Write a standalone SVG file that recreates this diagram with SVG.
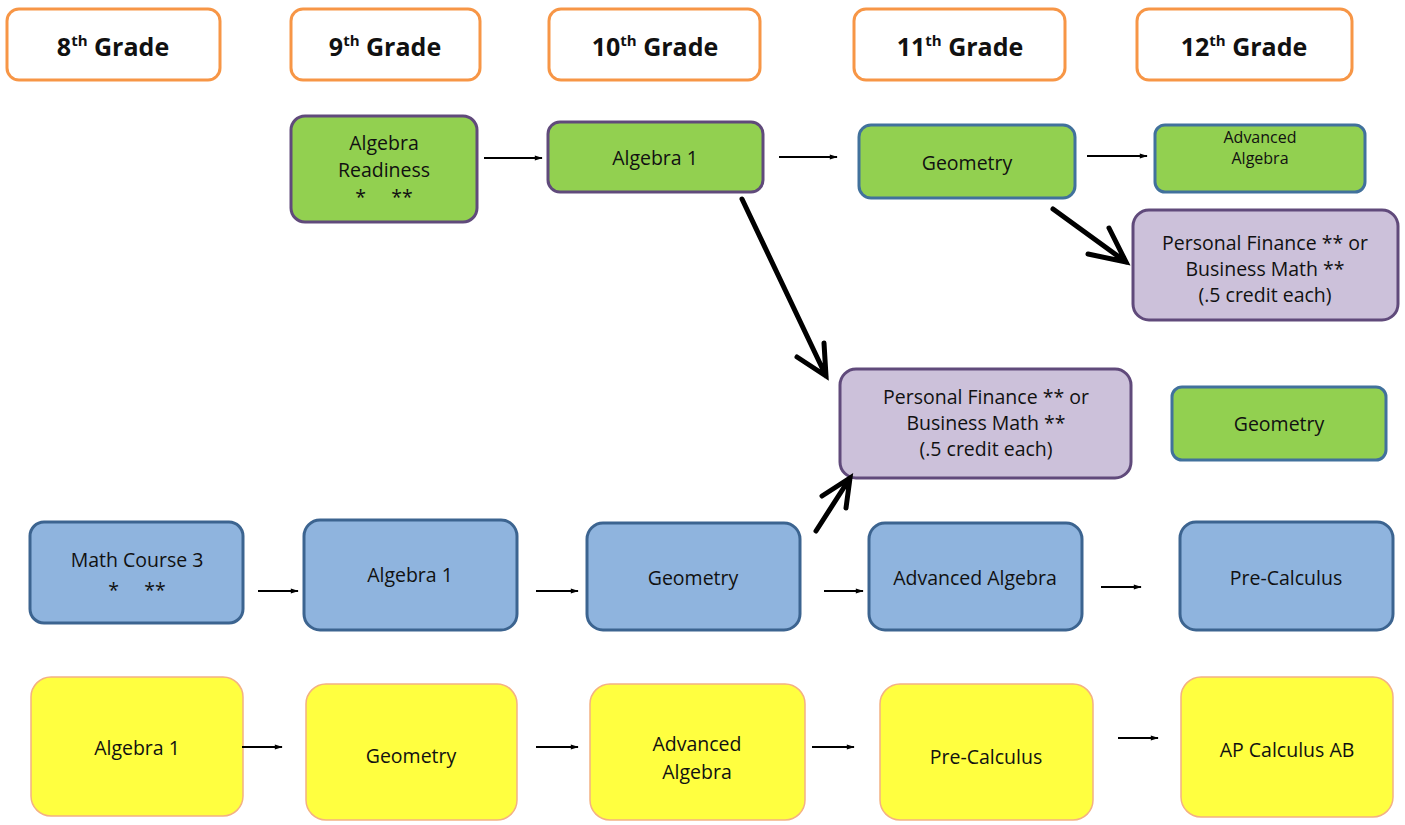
<svg xmlns="http://www.w3.org/2000/svg" width="1405" height="825" viewBox="0 0 1405 825">
<defs>
<marker id="sm" viewBox="0 0 10 10" refX="9" refY="5" markerWidth="5" markerHeight="4" orient="auto" markerUnits="strokeWidth"><path d="M0,2 L10,5 L0,8 Z" fill="#000"/></marker>
</defs>
<style>
.hdr{fill:#fff;stroke:#F79646;stroke-width:3}
.grn{fill:#92D050;stroke-width:3}
.pur{stroke:#604A7B}
.blu{stroke:#41719C}
.lav{fill:#CCC1DA;stroke:#604A7B;stroke-width:3}
.bl{fill:#8FB4DE;stroke:#3C6490;stroke-width:3}
.yl{fill:#FFFF40;stroke:#F4B183;stroke-width:1.5}
text{font-family:"Open Sans","Noto Sans",sans-serif;font-size:19.5px;fill:#111;text-anchor:middle;white-space:pre}
.h{font-size:25px;font-weight:bold}
.sup{font-size:15px}
.s{font-size:16px}
.sa{stroke:#000;stroke-width:2;fill:none;marker-end:url(#sm)}
.big{stroke:#000;stroke-width:5;fill:none;stroke-linecap:round}
</style>
<rect width="1405" height="825" fill="#fff"/>
<g id="h8"><rect class="hdr" x="7" y="9" width="213" height="71" rx="12"/><text class="h" x="113" y="56">8<tspan class="sup" dy="-10">th</tspan><tspan dy="10"> Grade</tspan></text></g>
<g id="h9"><rect class="hdr" x="291" y="9" width="189" height="71" rx="12"/><text class="h" x="385" y="56">9<tspan class="sup" dy="-10">th</tspan><tspan dy="10"> Grade</tspan></text></g>
<g id="h10"><rect class="hdr" x="549" y="9" width="211" height="71" rx="12"/><text class="h" x="655" y="56">10<tspan class="sup" dy="-10">th</tspan><tspan dy="10"> Grade</tspan></text></g>
<g id="h11"><rect class="hdr" x="854" y="9" width="211" height="71" rx="12"/><text class="h" x="960" y="56">11<tspan class="sup" dy="-10">th</tspan><tspan dy="10"> Grade</tspan></text></g>
<g id="h12"><rect class="hdr" x="1137" y="9" width="215" height="71" rx="12"/><text class="h" x="1244" y="56">12<tspan class="sup" dy="-10">th</tspan><tspan dy="10"> Grade</tspan></text></g>

<g id="g_ar"><rect class="grn pur" x="291" y="116" width="186" height="106" rx="14"/><text x="384" y="150">Algebra</text><text x="384" y="177">Readiness</text><text x="384" y="204">*     **</text></g>
<g id="g_a1"><rect class="grn pur" x="548" y="122" width="215" height="70" rx="12"/><text x="655" y="165">Algebra 1</text></g>
<g id="g_geo"><rect class="grn blu" x="859" y="125" width="216" height="73" rx="12"/><text x="967" y="170">Geometry</text></g>
<g id="g_aa"><rect class="grn blu" x="1155" y="125" width="210" height="67" rx="10"/><text class="s" x="1260" y="143">Advanced</text><text class="s" x="1260" y="164">Algebra</text></g>
<g id="p_top"><rect class="lav" x="1133" y="210" width="265" height="110" rx="16"/><text x="1265" y="250">Personal Finance ** or</text><text x="1265" y="276">Business Math **</text><text x="1265" y="302">(.5 credit each)</text></g>
<g id="p_mid"><rect class="lav" x="840" y="369" width="291" height="109" rx="16"/><text x="986" y="404">Personal Finance ** or</text><text x="986" y="430">Business Math **</text><text x="986" y="456">(.5 credit each)</text></g>
<g id="g_geo2"><rect class="grn blu" x="1172" y="387" width="214" height="73" rx="10"/><text x="1279" y="431">Geometry</text></g>

<g id="b_mc3"><rect class="bl" x="30" y="522" width="213" height="101" rx="14"/><text x="137" y="567">Math Course 3</text><text x="137" y="597">*     **</text></g>
<g id="b_a1"><rect class="bl" x="304" y="520" width="213" height="110" rx="16"/><text x="410" y="582">Algebra 1</text></g>
<g id="b_geo"><rect class="bl" x="587" y="523" width="213" height="107" rx="16"/><text x="693" y="585">Geometry</text></g>
<g id="b_aa"><rect class="bl" x="869" y="523" width="213" height="107" rx="16"/><text x="975" y="585">Advanced Algebra</text></g>
<g id="b_pc"><rect class="bl" x="1180" y="522" width="213" height="108" rx="16"/><text x="1286" y="585">Pre-Calculus</text></g>

<g id="y_a1"><rect class="yl" x="31" y="677" width="212" height="139" rx="20"/><text x="137" y="755">Algebra 1</text></g>
<g id="y_geo"><rect class="yl" x="306" y="684" width="211" height="136" rx="20"/><text x="411" y="763">Geometry</text></g>
<g id="y_aa"><rect class="yl" x="590" y="684" width="215" height="136" rx="20"/><text x="697" y="751">Advanced</text><text x="697" y="779">Algebra</text></g>
<g id="y_pc"><rect class="yl" x="880" y="684" width="213" height="136" rx="20"/><text x="986" y="764">Pre-Calculus</text></g>
<g id="y_ap"><rect class="yl" x="1181" y="677" width="212" height="140" rx="20"/><text x="1287" y="757">AP Calculus AB</text></g>

<g id="connectors">
<line class="sa" x1="484" y1="158" x2="542" y2="158"/>
<line class="sa" x1="779" y1="157" x2="837" y2="157"/>
<line class="sa" x1="1087" y1="156" x2="1147" y2="156"/>
<line class="sa" x1="258" y1="591" x2="298" y2="591"/>
<line class="sa" x1="536" y1="591" x2="578" y2="591"/>
<line class="sa" x1="824" y1="591" x2="863" y2="591"/>
<line class="sa" x1="1101" y1="587" x2="1141" y2="587"/>
<line class="sa" x1="242" y1="747" x2="282" y2="747"/>
<line class="sa" x1="536" y1="747" x2="578" y2="747"/>
<line class="sa" x1="812" y1="747" x2="854" y2="747"/>
<line class="sa" x1="1118" y1="738" x2="1158" y2="738"/>
<path class="big" d="M742,199 L826,376 M797,357 L826,376 L824,343"/>
<path class="big" d="M1053,209 L1126,262 M1088,254 L1126,262 L1109,228"/>
<path class="big" d="M816,531 L850,478 M822,496 L850,478 L846,508"/>
</g>
</svg>
